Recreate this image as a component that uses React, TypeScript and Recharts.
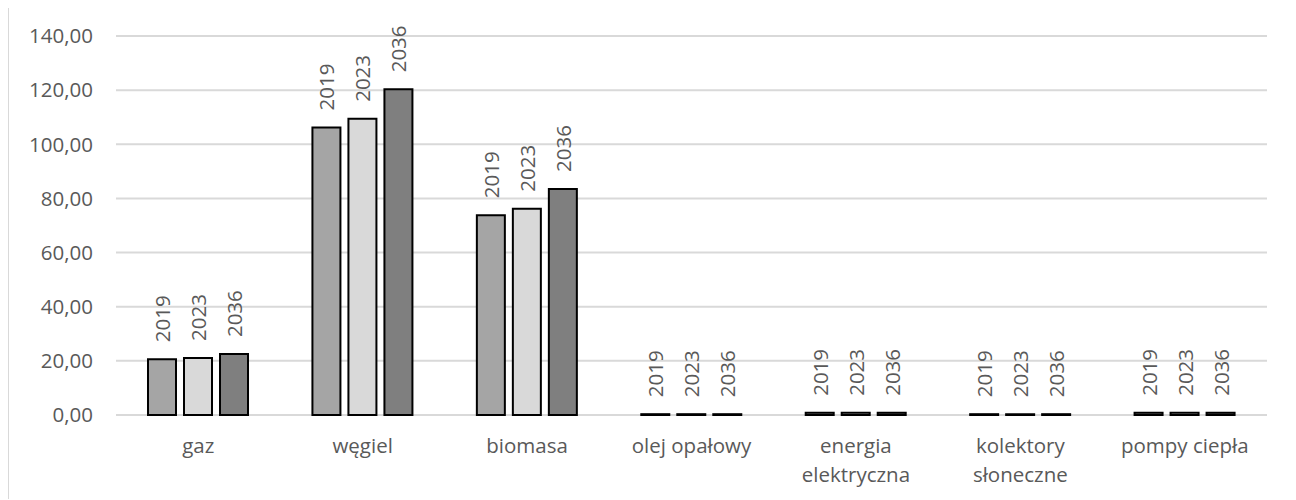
import React from 'react';
import { BarChart, Bar, XAxis, YAxis, CartesianGrid, LabelList } from 'recharts';

const categories = ['gaz', 'węgiel', 'biomasa', 'olej opałowy', 'energia elektryczna', 'kolektory słoneczne', 'pompy ciepła'];
const series2019 = [20.6, 106.2, 73.8, 0.3, 0.8, 0.3, 0.8];
const series2023 = [21.1, 109.4, 76.2, 0.3, 0.8, 0.3, 0.8];
const series2036 = [22.5, 120.3, 83.5, 0.3, 0.8, 0.3, 0.8];
const yTicks = [0, 20, 40, 60, 80, 100, 120, 140];

const seriesList = [
  { key: '2019', values: series2019, fill: '#a5a5a5' },
  { key: '2023', values: series2023, fill: '#d9d9d9' },
  { key: '2036', values: series2036, fill: '#7f7f7f' },
];

const data = categories.map((name, i) => {
  const row: Record<string, string | number> = { name };
  seriesList.forEach((s) => {
    row[s.key] = s.values[i];
  });
  return row;
});

const FONT = '"Open Sans", "Liberation Sans", sans-serif';
const TEXT_COLOR = '#595959';
const FONT_SIZE = 20.5;

const fmt = (v: number) => v.toFixed(2).replace('.', ',');

// long labels wrap onto two lines, like the original
const splitLabel = (label: string) => (label.length > 14 ? label.split(' ') : [label]);

const CategoryTick = (props: any) => {
  const { x, y, payload } = props;
  const lines = splitLabel(String(payload.value));
  return (
    <text
      x={x}
      y={y}
      textAnchor="middle"
      fill={TEXT_COLOR}
      fontSize={FONT_SIZE}
      fontFamily={FONT}
    >
      {lines.map((line, i) => (
        <tspan key={i} x={x} dy={i === 0 ? 15 : 29}>
          {line}
        </tspan>
      ))}
    </text>
  );
};

const makeSeriesLabel = (label: string) => (props: any) => {
  const { x, y, width } = props;
  const cx = x + width / 2;
  const cy = y - 17;
  return (
    <text
      x={cx}
      y={cy}
      transform={`rotate(-90, ${cx}, ${cy})`}
      textAnchor="start"
      dominantBaseline="central"
      fill={TEXT_COLOR}
      fontSize={FONT_SIZE}
      fontFamily={FONT}
    >
      {label}
    </text>
  );
};

export default function App() {
  return (
    <div
      style={{
        width: 1286,
        height: 491,
        borderTop: '1px solid #d9d9d9',
        borderLeft: '1px solid #d9d9d9',
        borderRight: '1px solid #d9d9d9',
        background: '#fff',
        marginTop: -1,
      }}
    >
      <BarChart
        width={1286}
        height={491}
        data={data}
        margin={{ top: 28, right: 28, left: 0, bottom: 24 }}
        barSize={28}
        barGap={8}
      >
        <CartesianGrid vertical={false} stroke="#d9d9d9" strokeWidth={2} />
        <XAxis
          dataKey="name"
          axisLine={false}
          tickLine={false}
          tickSize={0}
          tickMargin={23}
          height={60}
          interval={0}
          tick={<CategoryTick />}
        />
        <YAxis
          width={107}
          domain={[0, 140]}
          ticks={yTicks}
          axisLine={false}
          tickLine={false}
          tickSize={0}
          tickMargin={23}
          tickFormatter={fmt}
          tick={{ fill: TEXT_COLOR, fontSize: FONT_SIZE, fontFamily: FONT }}
        />
        {seriesList.map((s) => (
          <Bar
            key={s.key}
            dataKey={s.key}
            fill={s.fill}
            stroke="#000"
            strokeWidth={2}
            isAnimationActive={false}
          >
            <LabelList dataKey={s.key} content={makeSeriesLabel(s.key)} />
          </Bar>
        ))}
      </BarChart>
    </div>
  );
}
